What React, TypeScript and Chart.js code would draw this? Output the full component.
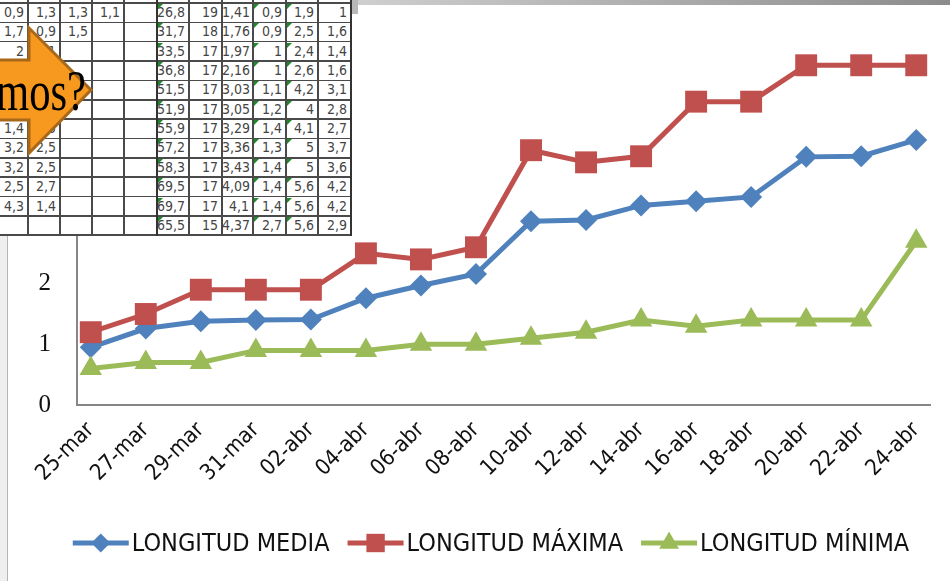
import React, { useEffect, useRef } from "react";
import { Chart, registerables } from "chart.js";
import { drawPoint } from "chart.js/helpers";

Chart.register(...registerables);

// ---- chart data ----
const categories = [
  "25-mar", "27-mar", "29-mar", "31-mar", "02-abr", "04-abr", "06-abr", "08-abr",
  "10-abr", "12-abr", "14-abr", "16-abr", "18-abr", "20-abr", "22-abr", "24-abr",
];
const dayOffsets = [0, 2, 4, 6, 8, 10, 12, 14, 16, 18, 20, 22, 24, 26, 28, 30];
const longitudMedia = [0.95, 1.26, 1.38, 1.4, 1.41, 1.76, 1.97, 2.16, 3.03, 3.05, 3.29, 3.36, 3.43, 4.09, 4.1, 4.37];
const longitudMaxima = [1.2, 1.5, 1.9, 1.9, 1.9, 2.5, 2.4, 2.6, 4.2, 4, 4.1, 5, 5, 5.6, 5.6, 5.6];
const longitudMinima = [0.6, 0.7, 0.7, 0.9, 0.9, 0.9, 1, 1, 1.1, 1.2, 1.4, 1.3, 1.4, 1.4, 1.4, 2.7];
const yTicks = [0, 1, 2, 3, 4, 5, 6];
const seriesNames = ["LONGITUD MEDIA", "LONGITUD MÁXIMA", "LONGITUD MÍNIMA"];

// ---- overlaid spreadsheet data ----
const sheetCol0 = ["0,9", "1,7", "2", "", "", "", "1,4", "3,2", "3,2", "2,5", "4,3", ""];
const sheetCol1 = ["1,3", "0,9", "1,1", "", "", "", "2,5", "2,5", "2,5", "2,7", "1,4", ""];
const sheetCol2 = ["1,3", "1,5", "", "", "", "", "", "", "", "", "", ""];
const sheetCol3 = ["1,1", "", "", "", "", "", "", "", "", "", "", ""];
const sheetCol5 = [26.8, 31.7, 33.5, 36.8, 51.5, 51.9, 55.9, 57.2, 58.3, 69.5, 69.7, 65.5];
const sheetCol6 = [19, 18, 17, 17, 17, 17, 17, 17, 17, 17, 17, 15];
const sheetCol10 = [1, 1.6, 1.4, 1.6, 3.1, 2.8, 2.7, 3.7, 3.6, 4.2, 4.2, 2.9];
const calloutText = "mos?";

const NARROW = "'Liberation Sans Narrow', 'Arial Narrow', 'DejaVu Sans Condensed', sans-serif";
const COLORS = ["#4F81BD", "#C0504D", "#9BBB59"];
const STYLES = ["rectRot", "rect", "triangle"];
const RADII = [11, 15.5, 13];
const LEGEND_RADII = [9.5, 13, 11.5];

const fmt = (v: number | string) => (typeof v === "number" ? String(v).replace(".", ",") : v);

const legendPlugin = {
  id: "excelLegend",
  afterDraw(chart: any) {
    const ctx = chart.ctx;
    ctx.save();
    ctx.font = `25px ${NARROW}`;
    ctx.textBaseline = "middle";
    const lineW = 56;
    const textGap = 3;
    const itemGap = 18;
    const ds = chart.data.datasets;
    const widths = ds.map((d: any) => lineW + textGap + ctx.measureText(d.label).width);
    const total = widths.reduce((a: number, b: number) => a + b, 0) + itemGap * (ds.length - 1);
    let x = 491 - total / 2;
    const y = 543;
    ds.forEach((d: any, i: number) => {
      ctx.strokeStyle = COLORS[i];
      ctx.lineWidth = 5;
      ctx.beginPath();
      ctx.moveTo(x, y);
      ctx.lineTo(x + lineW, y);
      ctx.stroke();
      ctx.fillStyle = COLORS[i];
      drawPoint(ctx, { pointStyle: STYLES[i], radius: LEGEND_RADII[i], rotation: 0, borderWidth: 0 } as any, x + lineW / 2, y);
      ctx.fillStyle = "#111";
      ctx.fillText(d.label, x + lineW + textGap, y + 1);
      x += widths[i] + itemGap;
    });
    ctx.restore();
  },
};

function SheetOverlay() {
  const colX = [-5, 28, 60, 92, 124, 157, 189, 222, 253, 286, 318, 351];
  const rowH = 19.35;
  const top0 = 3;
  const columns: (string | number)[][] = [
    sheetCol0, sheetCol1, sheetCol2, sheetCol3, Array(12).fill(""),
    sheetCol5, sheetCol6, longitudMedia.slice(4), longitudMinima.slice(4), longitudMaxima.slice(4), sheetCol10,
  ];
  const greenCols = [5, 8, 9];
  const cells: any[] = [];
  for (let r = 0; r < 12; r++) {
    for (let c = 0; c < 11; c++) {
      const txt = fmt(columns[c][r]);
      const left = colX[c];
      const w = colX[c + 1] - colX[c];
      const t = top0 + r * rowH;
      if (txt !== "") {
        cells.push(
          <div key={`t${r}-${c}`} style={{
            position: "absolute", left, top: t, width: w - 4, height: rowH, lineHeight: `${rowH}px`,
            textAlign: "right", fontFamily: NARROW, fontSize: 14, color: "#444",
          }}>{txt}</div>
        );
      }
      if (greenCols.includes(c)) {
        cells.push(
          <div key={`g${r}-${c}`} style={{
            position: "absolute", left: left + 1, top: t + 1, width: 0, height: 0,
            borderTop: "5px solid #1f8a2a", borderRight: "5px solid transparent",
          }} />
        );
      }
    }
  }
  const lines: any[] = [];
  for (let r = 0; r <= 12; r++) {
    lines.push(<div key={`h${r}`} style={{ position: "absolute", left: 0, top: top0 + r * rowH - 0.75, width: 351, height: 1.5, background: "#4a4a4a" }} />);
  }
  colX.slice(1).forEach((x, i) => {
    const thick = x === 157 || x === 351;
    lines.push(<div key={`v${i}`} style={{ position: "absolute", left: x - (thick ? 1 : 0.75), top: 0, width: thick ? 2 : 1.5, height: 236, background: thick ? "#333" : "#4a4a4a" }} />);
  });
  return (
    <div style={{ position: "absolute", left: 0, top: 0, width: 352, height: 236, background: "#fff", overflow: "hidden" }}>
      {cells}
      {lines}
    </div>
  );
}

export default function App() {
  const canvasRef = useRef<HTMLCanvasElement | null>(null);

  useEffect(() => {
    const canvas = canvasRef.current;
    if (!canvas) return;
    const seriesValues = [longitudMedia, longitudMaxima, longitudMinima];
    const chart = new Chart(canvas, {
      type: "line",
      data: {
        datasets: seriesValues.map((vals, i) => ({
          label: seriesNames[i],
          data: dayOffsets.map((x, j) => ({ x, y: vals[j] })),
          borderColor: COLORS[i],
          backgroundColor: COLORS[i],
          borderWidth: 5,
          pointStyle: STYLES[i] as any,
          pointRadius: RADII[i],
          pointHoverRadius: RADII[i],
          pointBorderWidth: 0,
          pointBackgroundColor: COLORS[i],
          tension: 0,
          fill: false,
          order: 3 - i,
        })),
      },
      options: {
        animation: false,
        responsive: false,
        maintainAspectRatio: false,
        layout: { padding: { left: 0, right: 20, top: 35, bottom: 76 } },
        plugins: { legend: { display: false }, tooltip: { enabled: false } },
        scales: {
          x: {
            type: "linear",
            min: -0.5,
            max: 30.5,
            afterBuildTicks: (s: any) => { s.ticks = dayOffsets.map((v) => ({ value: v })); },
            afterFit: (s: any) => { s.height = 100; },
            ticks: {
              autoSkip: false,
              maxRotation: 45,
              minRotation: 45,
              padding: 12,
              color: "#111",
              font: { family: NARROW, size: 22 },
              callback: (_v: any, i: number) => categories[i],
            },
            grid: { display: false, drawTicks: false },
            border: { display: true, color: "#868686", width: 2 },
          },
          y: {
            min: 0,
            max: 6,
            afterBuildTicks: (s: any) => { s.ticks = yTicks.map((v) => ({ value: v })); },
            afterFit: (s: any) => { s.width = 77; },
            ticks: {
              padding: 26,
              color: "#111",
              font: { family: "'Liberation Serif', 'DejaVu Serif', serif", size: 25 },
            },
            grid: { display: false, drawTicks: false },
            border: { display: true, color: "#868686", width: 2 },
          },
        },
      },
      plugins: [legendPlugin],
    });
    return () => chart.destroy();
  }, []);

  return (
    <div style={{ position: "fixed", left: 0, top: 0, width: 950, height: 581, background: "#fff", overflow: "hidden" }}>
      <canvas ref={canvasRef} width={950} height={581} style={{ position: "absolute", left: 0, top: 0 }} />
      <div style={{ position: "absolute", left: 0, top: 236, width: 7, height: 345, background: "#efefef", borderRight: "1px solid #b5b5b5" }} />
      <div style={{ position: "absolute", left: 355, top: 0, width: 595, height: 5, background: "linear-gradient(to right, #cfcfcf, #8c8c8c)" }} />
      <div style={{ position: "absolute", left: 352, top: 0, width: 6, height: 14, background: "#b8b8b8" }} />
      <SheetOverlay />
      <svg width={100} height={160} style={{ position: "absolute", left: 0, top: 0, overflow: "visible" }}>
        <polygon
          points="-5,60 29,60 29,28 91,90 29,153 29,120 -5,120"
          fill="#F7981F"
          stroke="#A8681A"
          strokeWidth={3}
        />
        <text
          x={-4}
          y={110}
          fontFamily="'Liberation Serif', 'DejaVu Serif', serif"
          fontSize={58}
          textLength={90}
          lengthAdjust="spacingAndGlyphs"
          fill="#000"
        >
          {calloutText}
        </text>
      </svg>
    </div>
  );
}
